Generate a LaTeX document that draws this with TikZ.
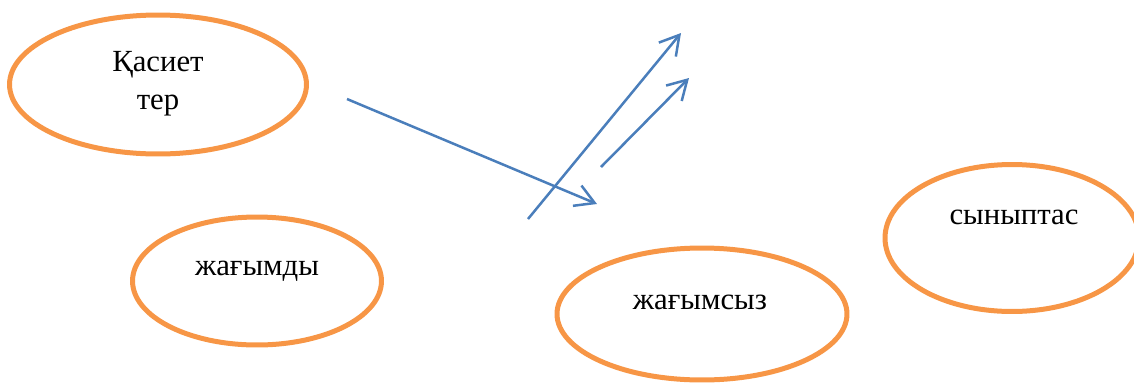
\documentclass[tikz,border=0pt]{standalone}
\usepackage{fontspec}
\setmainfont{Liberation Serif}
\usetikzlibrary{arrows.meta, shapes.geometric}

\definecolor{ovalorange}{HTML}{F79646}
\definecolor{linkblue}{HTML}{4A7EBB}

\begin{document}
\begin{tikzpicture}[x=.02cm,y=-.02cm,
    oval/.style={ellipse,draw=ovalorange,line width=.1cm,inner sep=0pt},
    word/.style={font=\fontsize{17.5}{21.5}\selectfont,align=center,inner sep=0pt},
    link/.style={draw=linkblue,line width=.05cm,-{Straight Barb[length=.38cm,width=.44cm]}}]
    \useasboundingbox (0,0) rectangle (1134,383);
    % ovals
    \node[oval,minimum width=5.94cm,minimum height=2.78cm] (kasiet) at (158,84.5) {};
    \node[oval,minimum width=4.98cm,minimum height=2.56cm] (jagymdy) at (257,281) {};
    \node[oval,minimum width=5.8cm,minimum height=2.64cm] (jagymsyz) at (702,314) {};
    \node[oval,minimum width=5.08cm,minimum height=2.94cm] (synyptas) at (1012,238) {};
    \node[word] (t1) at (158,84) {Қасиет\\тер};
    \node[word] (t2) at (257,271) {жағымды};
    \node[word] (t3) at (700,302) {жағымсыз};
    \node[word] (t4) at (1014,217) {сыныптас};
    % arrows
    \path (347,99)coordinate(s1) (528,219)coordinate(s2) (601,167)coordinate(s3)
    (597,204)coordinate(e1) (681,33)coordinate(e2) (689,78)coordinate(e3);
    \foreach \i in {1,2,3}{
    \draw[link] (s\i)--(e\i);}
\end{tikzpicture}
\end{document}
